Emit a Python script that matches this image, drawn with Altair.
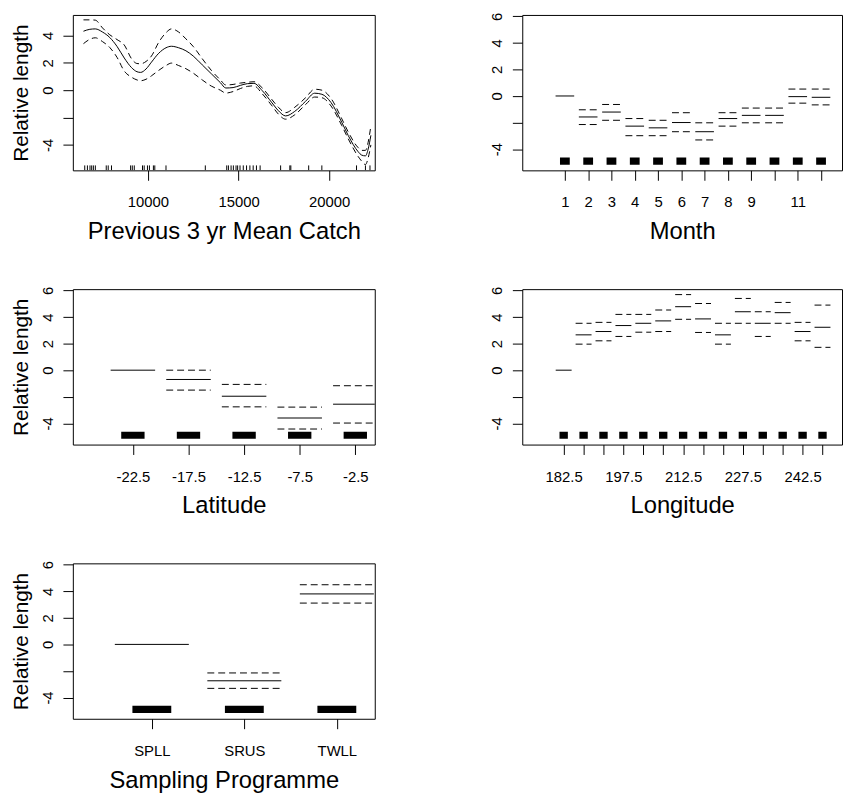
import altair as alt
import pandas as pd

# ---------------- data ----------------
# Panel 1: Previous 3 yr Mean Catch (smooth term with CI)
catch_x = [6450, 6800, 7100, 7500, 7900, 8300, 8700, 9100, 9400, 9600, 9900, 10200,
           10600, 11000, 11300, 11700, 12100, 12500, 13000, 13500, 14000, 14300, 14700,
           15100, 15500, 15850, 16300, 16850, 17200, 17600, 18100, 18700, 19200, 19600,
           20100, 20700, 21050, 21600, 21800, 22000, 22150, 22300]
catch_fit = [4.31, 4.45, 4.48, 4.25, 3.85, 3.20, 2.35, 1.65, 1.35, 1.30, 1.55, 2.05,
             2.70, 3.10, 3.21, 3.10, 2.88, 2.50, 1.85, 1.20, 0.55, 0.16, 0.19,
             0.35, 0.48, 0.50, -0.02, -0.93, -1.50, -1.88, -1.55, -0.81, -0.22, -0.30,
             -0.90, -2.36, -3.31, -4.50, -4.75, -4.80, -4.30, -3.30]
catch_upper = [5.14, 5.14, 5.12, 4.55, 4.05, 3.70, 3.30, 2.30, 1.95, 1.93, 2.10, 2.50,
               3.50, 4.20, 4.48, 4.25, 3.75, 3.20, 2.30, 1.45, 0.75, 0.38, 0.42,
               0.52, 0.58, 0.62, 0.18, -0.70, -1.25, -1.64, -1.25, -0.55, 0.07, 0.00,
               -0.60, -2.10, -3.05, -4.20, -4.40, -4.40, -3.80, -2.60]
catch_lower = [3.40, 3.72, 3.83, 3.55, 3.12, 2.40, 1.40, 0.95, 0.75, 0.69, 0.80, 1.05,
               1.45, 1.80, 1.98, 1.80, 1.57, 1.25, 0.75, 0.30, 0.00, -0.21, -0.10,
               0.12, 0.28, 0.32, -0.25, -1.15, -1.75, -2.12, -1.80, -1.05, -0.50, -0.55,
               -1.15, -2.60, -3.55, -4.85, -5.20, -5.44, -4.95, -4.00]
catch_rug = [6519, 6667, 6809, 6902, 6995, 7104, 7705, 7814, 7995, 9049, 9142, 9251,
             9705, 9798, 9978, 10087, 10306, 10383, 11000, 13169, 14350, 14443, 14590,
             14716, 14863, 14951, 15082, 15262, 15443, 15628, 15809, 15989, 16191,
             17322, 17830, 17885, 18869, 19596, 21508, 22000, 22250]

# Panel 2: Month
month_levels = [1, 2, 3, 4, 5, 6, 7, 8, 9, 10, 11, 12]
month_fit = [0.00, -1.58, -1.21, -2.27, -2.40, -2.00, -2.69, -1.70, -1.46, -1.46, -0.05, -0.10]
month_upper = [None, -1.04, -0.64, -1.70, -1.83, -1.26, -2.02, -1.26, -0.91, -0.91, 0.52, 0.52]
month_lower = [None, -2.15, -1.83, -2.99, -2.99, -2.69, -3.31, -2.27, -2.02, -2.02, -0.54, -0.67]
month_labels = ["1", "2", "3", "4", "5", "6", "7", "8", "9", "", "11", ""]

# Panel 3: Latitude
lat_levels = [-22.5, -17.5, -12.5, -7.5, -2.5]
lat_fit = [0.00, -0.70, -1.96, -3.60, -2.56]
lat_upper = [None, 0.00, -1.07, -2.78, -1.17]
lat_lower = [None, -1.50, -2.76, -4.43, -3.98]
lat_labels = ["-22.5", "-17.5", "-12.5", "-7.5", "-2.5"]

# Panel 4: Longitude
lon_levels = [182.5, 187.5, 192.5, 197.5, 202.5, 207.5, 212.5, 217.5, 222.5, 227.5,
              232.5, 237.5, 242.5, 247.5]
lon_fit = [0.00, 2.66, 2.91, 3.36, 3.53, 3.71, 4.78, 3.86, 2.66, 4.40, 3.53, 4.33, 2.91, 3.23]
lon_upper = [None, 3.53, 3.60, 4.20, 4.20, 4.53, 5.69, 5.02, 3.53, 5.40, 4.40, 5.10, 3.60, 4.90]
lon_lower = [None, 1.96, 2.21, 2.54, 2.86, 2.91, 3.83, 2.84, 1.96, 3.53, 2.54, 3.53, 2.21, 1.72]
lon_labels = ["182.5", "", "", "197.5", "", "", "212.5", "", "", "227.5", "", "", "242.5", ""]

# Panel 5: Sampling Programme
prog_levels = [1, 2, 3]
prog_names = ["SPLL", "SRUS", "TWLL"]
prog_fit = [0.00, -2.74, 3.80]
prog_upper = [None, -2.15, 4.49]
prog_lower = [None, -3.31, 3.11]

# y-limits of the factor terms (rug band sits at the bottom 5% of it)
factor_ylim = [-5.17, 5.67]

# ---------------- style ----------------
FONT = "Liberation Sans"
LEFT_W, RIGHT_W, H = 305, 323, 157
Y_FACTOR = [-5.6, 6.1]
Y_CATCH = [-5.86, 5.5]


def yaxis(values, title):
    return alt.Axis(
        values=values,
        labelExpr="datum.value == -2 ? '' : toString(datum.value)",
        labelAngle=270, labelAlign="center", labelBaseline="middle",
        labelPadding=16, title=title, titleAngle=270, titleX=-52,
        titleBaseline="middle", titleFontSize=21,
    )


def xaxis(values, title, label_expr=None):
    kw = dict(values=values, title=title, labelBaseline="middle", labelPadding=22,
              titleY=62, titleBaseline="middle", titleFontSize=24, format="d")
    if label_expr is not None:
        kw["labelExpr"] = label_expr
    return alt.Axis(**kw)


def expr_from(levels, labels):
    parts = " : ".join(f"datum.value == {lv} ? '{lb}'" for lv, lb in zip(levels, labels))
    return parts + " : ''"


def factor_panel(levels, fit, upper, lower, labels, xdomain, step, title, ylab, width):
    df = pd.DataFrame({"pos": levels, "fit": fit, "upper": upper, "lower": lower})
    hw = 0.4 * step
    rw = 0.21 * step
    xs = alt.Scale(domain=xdomain, nice=False, zero=False)
    ys = alt.Scale(domain=Y_FACTOR, nice=False, zero=False)
    xa = xaxis(levels, title, expr_from(levels, labels))
    ya = yaxis([-4, -2, 0, 2, 4, 6], ylab)
    base = alt.Chart(df).transform_calculate(
        lo=f"datum.pos - {hw}", hi=f"datum.pos + {hw}",
        rlo=f"datum.pos - {rw}", rhi=f"datum.pos + {rw}",
        rb=f"{factor_ylim[0]}",
        rt=f"{factor_ylim[0] + 0.05 * (factor_ylim[1] - factor_ylim[0])}",
    )
    solid = base.mark_rule(color="black", strokeWidth=1, clip=True).encode(
        x=alt.X("lo:Q", scale=xs, axis=xa),
        x2="hi:Q",
        y=alt.Y("fit:Q", scale=ys, axis=ya),
    )
    ci = base.transform_filter("isValid(datum.upper)").transform_fold(
        ["upper", "lower"], as_=["band", "val"]
    ).mark_rule(color="black", strokeWidth=1, strokeDash=[7, 4], clip=True).encode(
        x=alt.X("lo:Q", scale=xs, axis=xa),
        x2="hi:Q",
        y=alt.Y("val:Q", scale=ys, axis=ya),
        detail="band:N",
    )
    rug = base.mark_rect(color="black", clip=True).encode(
        x=alt.X("rlo:Q", scale=xs, axis=xa),
        x2="rhi:Q",
        y=alt.Y("rb:Q", scale=ys, axis=ya),
        y2="rt:Q",
    )
    return alt.layer(solid, ci, rug).properties(width=width, height=H)


# Panel 1
cdf = pd.DataFrame({"x": catch_x, "fit": catch_fit, "upper": catch_upper, "lower": catch_lower})
rdf = pd.DataFrame({"r": catch_rug})
cxs = alt.Scale(domain=[5863, 22514], nice=False, zero=False)
cys = alt.Scale(domain=Y_CATCH, nice=False, zero=False)
cxa = xaxis([10000, 15000, 20000], "Previous 3 yr Mean Catch")
cya = yaxis([-4, -2, 0, 2, 4], "Relative length")
c_fit = alt.Chart(cdf).mark_line(color="black", strokeWidth=1, interpolate="monotone",
                                 clip=True).encode(
    x=alt.X("x:Q", scale=cxs, axis=cxa),
    y=alt.Y("fit:Q", scale=cys, axis=cya),
)
c_ci = alt.Chart(cdf).transform_fold(["upper", "lower"], as_=["band", "val"]).mark_line(
    color="black", strokeWidth=1, strokeDash=[6, 4], interpolate="monotone", clip=True
).encode(
    x=alt.X("x:Q", scale=cxs, axis=cxa),
    y=alt.Y("val:Q", scale=cys, axis=cya),
    detail="band:N",
)
c_rug = alt.Chart(rdf).mark_rule(color="black", strokeWidth=1, clip=True).encode(
    x=alt.X("r:Q", scale=cxs, axis=cxa),
    y=alt.value(H),
    y2=alt.value(H - 5),
)
p1 = alt.layer(c_fit, c_ci, c_rug).properties(width=LEFT_W, height=H)

p2 = factor_panel(month_levels, month_fit, month_upper, month_lower, month_labels,
                  [-0.83, 12.9], 1, "Month", "", RIGHT_W)
p3 = factor_panel(lat_levels, lat_fit, lat_upper, lat_lower, lat_labels,
                  [-27.9, -0.75], 5, "Latitude", "Relative length", LEFT_W)
p4 = factor_panel(lon_levels, lon_fit, lon_upper, lon_lower, lon_labels,
                  [172.1, 252.4], 5, "Longitude", "", RIGHT_W)
p5 = factor_panel(prog_levels, prog_fit, prog_upper, prog_lower, prog_names,
                  [0.146, 3.41], 1, "Sampling Programme", "Relative length", LEFT_W)

chart = alt.concat(
    p1, p2, p3, p4, p5, columns=2, bounds="flush", align="each",
    spacing={"row": 120, "column": 149},
).properties(padding={"left": 1.5, "top": -1, "right": 0, "bottom": 0}).configure_axis(
    domain=False, grid=False, tickColor="black", tickSize=10, tickWidth=1,
    labelFont=FONT, labelFontSize=15, labelColor="black",
    titleFont=FONT, titleFontWeight="normal", titleColor="black",
).configure_view(stroke="black", strokeWidth=1)

chart.save("out.html", embed_options={"renderer": "svg", "actions": False})
